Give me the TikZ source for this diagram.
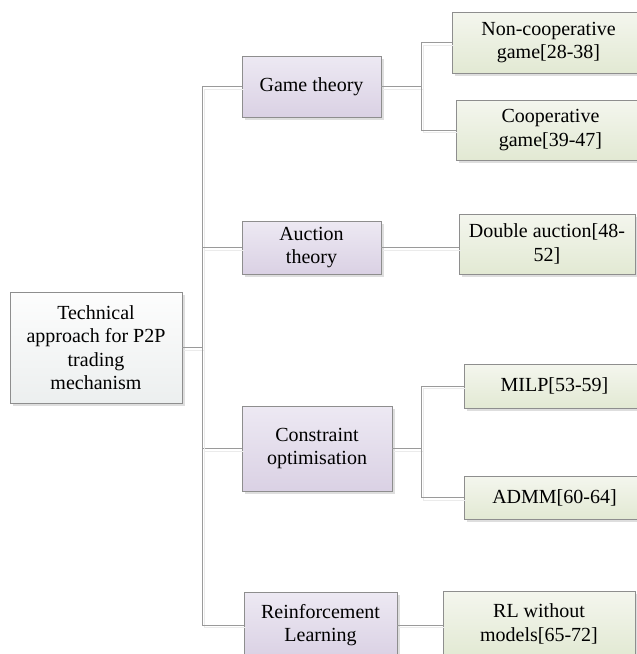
\documentclass[tikz,border=0pt]{standalone}
\usepackage{fontspec}
\setmainfont{Liberation Serif}
\usepackage{tikz}
\usepackage{xcolor}
\usetikzlibrary{shadows}

\definecolor{boxline}{HTML}{8E8E8E}
\definecolor{wire}{HTML}{9A9A9A}
\definecolor{lilactop}{HTML}{EDE9F3}
\definecolor{lilacbot}{HTML}{DAD1E4}
\definecolor{sagetop}{HTML}{F4F6EE}
\definecolor{sagebot}{HTML}{E2E9D3}
\definecolor{greytop}{HTML}{FDFDFD}
\definecolor{greybot}{HTML}{ECEFEF}

\begin{document}
\begin{tikzpicture}[x=1pt, y=-1pt,
	box/.style={draw=boxline, line width=0.9pt, inner sep=0pt, align=center,
		font=\fontsize{20}{23.5}\selectfont,
		drop shadow={shadow xshift=3pt, shadow yshift=-3pt, fill=black!18, opacity=0.7}},
	topbox/.style={box, top color=greytop, bottom color=greybot},
	midbox/.style={box, top color=lilactop, bottom color=lilacbot},
	leafbox/.style={box, top color=sagetop, bottom color=sagebot},
	wire/.style={draw=wire, line width=0.9pt,
		preaction={draw=black!8, line width=1pt, transform canvas={xshift=2pt, yshift=-2.5pt}}}]
	\clip (0,0) rectangle (637,654);
	\fill[white] (0,0) rectangle (637,654);

	\node[topbox, minimum width=172pt, minimum height=111pt] (root) at (96,347.5)
		{Technical\\approach for P2P\\trading\\mechanism};

	\node[midbox, minimum width=139pt, minimum height=61pt] (game) at (311.5,86.5) {Game theory};
	\node[midbox, minimum width=139pt, minimum height=53pt] (auct) at (311.5,247.5) {Auction\\theory};
	\node[midbox, minimum width=150pt, minimum height=85pt] (opt) at (317,448.5) {Constraint\\optimisation};
	\node[midbox, minimum width=153pt, minimum height=66pt] (rl) at (320.5,625) {Reinforcement\\Learning};

	\node[leafbox, minimum width=193pt, minimum height=61pt] (noncoop) at (548.5,42.5) {Non-cooperative\\game[28-38]};
	\node[leafbox, minimum width=189pt, minimum height=60pt] (coop) at (550.5,130) {Cooperative\\game[39-47]};
	\node[leafbox, minimum width=176pt, minimum height=60pt] (dauct) at (547,244) {Double auction[48-\\52]};
	\node[leafbox, minimum width=181pt, minimum height=44pt] (milp) at (554.5,386) {MILP[53-59]};
	\node[leafbox, minimum width=181pt, minimum height=43pt] (admm) at (554.5,497.5) {ADMM[60-64]};
	\node[leafbox, minimum width=192pt, minimum height=66pt] (rlfree) at (539,624) {RL without\\models[65-72]};

	% trunk
	\coordinate (trunk) at (202,347.5);
	\draw[wire] (root.east) -- (trunk);
	\foreach \n in {game,auct,opt,rl}
		\draw[wire] (trunk) |- (\n.west);

	% branches
	\draw[wire] (game.east) -- ++(40,0) coordinate (gj);
	\draw[wire] (gj) |- (noncoop.west);
	\draw[wire] (gj) |- (coop.west);
	\draw[wire] (auct.east) -- (auct.east -| dauct.west);
	\draw[wire] (opt.east) -- ++(29,0) coordinate (oj);
	\draw[wire] (oj) |- (milp.west);
	\draw[wire] (oj) |- (admm.west);
	\draw[wire] (rl.east) -- (rl.east -| rlfree.west);
\end{tikzpicture}
\end{document}
